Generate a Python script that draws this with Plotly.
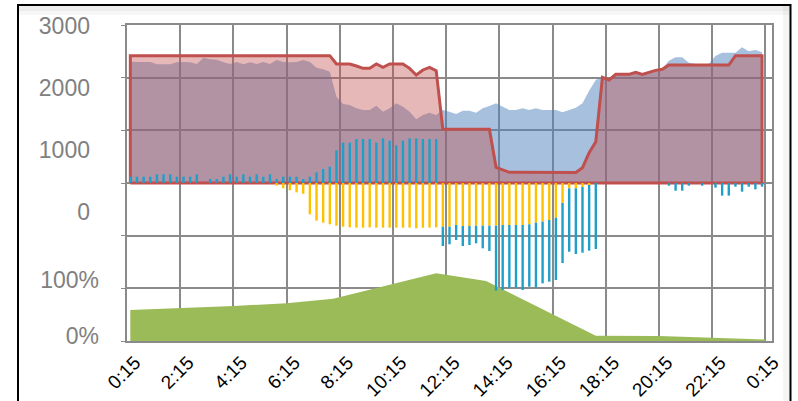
import plotly.graph_objects as go

# ---------------- data ----------------
# quarter-hour intervals, labelled 0:15 ... 24:00 ; x = interval centre in hours
N_INTERVALS = 96
FIRST_H = 0.25
STEP_H = 0.25
times = [FIRST_H + STEP_H * (i + 0.5) for i in range(N_INTERVALS)]

tick_hours = [0.25, 2.25, 4.25, 6.25, 8.25, 10.25, 12.25, 14.25, 16.25, 18.25, 20.25, 22.25, 24.25]
tick_labels = ["0:15", "2:15", "4:15", "6:15", "8:15", "10:15", "12:15",
               "14:15", "16:15", "18:15", "20:15", "22:15", "0:15"]

count_ticks = [0, 1000, 2000, 3000]
count_labels = ["0", "1000", "2000", "3000"]
share_ticks = [0, 1]
share_labels = ["0%", "100%"]

blue_area = [2304, 2297, 2297, 2297, 2253, 2253, 2253, 2291, 2297, 2291,
             2259, 2380, 2348, 2342, 2291, 2259, 2297, 2253, 2291, 2259,
             2297, 2259, 2335, 2297, 2291, 2297, 2335, 2297, 2190, 2158,
             2114, 1639, 1500, 1481, 1418, 1386, 1386, 1468, 1354, 1418,
             1513, 1449, 1354, 1209, 1291, 1335, 1291, 1386, 1354, 1310,
             1373, 1373, 1335, 1418, 1462, 1513, 1449, 1386, 1386, 1418,
             1386, 1418, 1386, 1386, 1386, 1342, 1386, 1430, 1513, 1750,
             1956, 2019, 1975, 2082, 2082, 2082, 2120, 2082, 2120, 2158,
             2177, 2323, 2386, 2386, 2285, 2259, 2259, 2259, 2411, 2475,
             2475, 2475, 2576, 2500, 2525, 2481]

red_area = [2418] * 31 + [
             2259, 2259, 2259, 2222, 2177, 2177, 2259, 2196, 2259, 2259,
             2259, 2177, 2051, 2146, 2196, 2133,
             1019, 1019, 1019, 1019, 1019, 1019, 1019, 1019,
             297, 247, 203, 203, 203, 203, 203, 203, 203, 200, 200, 200, 200,
             291, 576, 785, 2006, 1956, 2063, 2063, 2063, 2101, 2063, 2101,
             2139, 2158, 2240, 2240, 2240, 2240, 2240, 2240, 2240, 2240,
             2240, 2240, 2418, 2418, 2418, 2418, 2418]

bar_blue = [120, 120, 120, 120, 165, 165, 165, 120, 120, 120,
            165, 0, 76, 76, 120, 165, 120, 165, 120, 165,
            120, 165, 76, 120, 120, 120, 76, 120, 203, 266,
            310, 620, 766, 766, 835, 835, 835, 766, 848, 804,
            715, 804, 848, 848, 835, 835, 835, -367, -335, -285,
            -380, -361, -335, -430, -481, -1234, -1234, -1190, -1190, -1234,
            -1184, -1234, -1171, -1171, -1184, -1139, -1203, -1247, -1247, -1247,
            -1253, 0, 0, 0, 0, 0, 0, 0, 0, 0,
            0, -51, -146, -146, -51, 0, -51, 0, -89, -240,
            -240, -70, -165, -70, -120, -70]

bar_yellow = [0] * 22 + [
              -51, -101, -139, -177, -203, -595, -715, -753, -785, -810,
              -829, -842, -848, -848, -842, -848, -848, -848, -848, -848,
              -848, -861, -848, -848, -842, -829, -829, -797, -816, -816,
              -810, -810, -810, -810, -797, -797, -797, -797, -785, -753,
              -734, -703, -658, -380, -101, -101, -76, -38] + [0] * 26

green_hours = [0.375, 4.25, 6.25, 8.0, 11.875, 13.75, 17.875, 20.25, 22.25, 24.25]
green_share = [0.59, 0.665, 0.716, 0.80, 1.285, 1.14, 0.10, 0.095, 0.063, 0.03]

# ---------------- geometry ----------------
W, H = 798, 401
ML, MR, MT, MB = 127, 26, 25, 60
PW, PH = W - ML - MR, H - MT - MB

def pxx(px):
    return (px - ML) / PW

def pxy(py):
    return (H - MB - py) / PH

GRID = "#8a8a8a"
RED = "#C0504D"

fig = go.Figure()

# green share area (bottom panel)
fig.add_trace(go.Scatter(x=green_hours, y=green_share, mode="none", fill="tozeroy",
                         fillcolor="#9BBB59", yaxis="y", hoverinfo="skip"))
# blue area
fig.add_trace(go.Scatter(x=times, y=blue_area, mode="none", fill="tozeroy",
                         fillcolor="rgba(79,129,189,0.5)", yaxis="y2", hoverinfo="skip"))
# red area fill
fig.add_trace(go.Scatter(x=times, y=red_area, mode="none", fill="tozeroy",
                         fillcolor="rgba(192,80,77,0.4)", yaxis="y2", hoverinfo="skip"))
# red area outline (closed polygon round the area)
outline_x = [times[0]] + times + [times[-1], times[0]]
outline_y = [0] + red_area + [0, 0]
fig.add_trace(go.Scatter(x=outline_x, y=outline_y, mode="lines",
                         line=dict(color=RED, width=3), yaxis="y2", hoverinfo="skip"))
# bars
fig.add_trace(go.Bar(x=times, y=bar_yellow, width=0.09, marker=dict(color="#FFC000", line=dict(width=0)),
                     yaxis="y3", hoverinfo="skip"))
fig.add_trace(go.Bar(x=times, y=bar_blue, width=0.09, marker=dict(color="#1F9FCA", line=dict(width=0)),
                     yaxis="y3", hoverinfo="skip"))
# empty traces so that the two label axes are drawn
fig.add_trace(go.Scatter(x=[], y=[], yaxis="y4", mode="lines", hoverinfo="skip"))
fig.add_trace(go.Scatter(x=[], y=[], yaxis="y5", mode="lines", hoverinfo="skip"))

label_font = dict(family="Liberation Sans, Arial, sans-serif", size=23, color="#808080")

# label axis ranges: placed so labels sit where the reference prints them
cnt_px_per_unit = (212 - 26.2) / 3000
cnt_range = [0 - (H - MB - 212) / cnt_px_per_unit, 3000 + (26.2 - MT) / cnt_px_per_unit]
pct_px_per_unit = 336 - 280
pct_range = [0 - (H - MB - 336) / pct_px_per_unit, 1 + (280 - MT) / pct_px_per_unit]

fig.update_layout(
    template="none",
    width=W, height=H,
    margin=dict(l=ML, r=MR, t=MT, b=MB, pad=0),
    paper_bgcolor="white", plot_bgcolor="white",
    showlegend=False,
    barmode="relative",
    xaxis=dict(range=[0.25, 24.5], tickvals=tick_hours, ticktext=tick_labels,
               tickangle=-45, tickfont=dict(family="Liberation Sans, Arial, sans-serif", size=19, color="black"),
               ticklabelstandoff=1, ticklabelshift=8,
               showgrid=True, gridcolor=GRID, gridwidth=2, zeroline=False,
               showline=True, linecolor=GRID, linewidth=2, mirror=True,
               ticks="", automargin=False),
    yaxis=dict(range=[0, 6], dtick=1, showgrid=True, gridcolor=GRID, gridwidth=2,
               zeroline=False, showticklabels=False, showline=True, linecolor=GRID,
               linewidth=2, mirror=True, ticks="outside", ticklen=4, tickcolor=GRID,
               automargin=False),
    yaxis2=dict(overlaying="y", anchor="x", range=[-3000, 3000], visible=False),
    yaxis3=dict(overlaying="y", anchor="x", range=[-3000, 3000], visible=False),
    yaxis4=dict(overlaying="y", anchor="x", side="left", range=cnt_range,
                tickvals=count_ticks, ticktext=count_labels, tickfont=label_font,
                showgrid=False, zeroline=False, showline=False, ticks="",
                ticklabelstandoff=36, automargin=False),
    yaxis5=dict(overlaying="y", anchor="x", side="left", range=pct_range,
                tickvals=share_ticks, ticktext=share_labels, tickfont=label_font,
                showgrid=False, zeroline=False, showline=False, ticks="",
                ticklabelstandoff=27, automargin=False),
    shapes=[
        # soft inner shadow under the top edge of the frame
        dict(type="rect", xref="paper", yref="paper", x0=pxx(18), x1=pxx(790), y0=pxy(15), y1=pxy(6),
             fillcolor="rgba(0,0,0,0.03)", line=dict(width=0), layer="below"),
        dict(type="rect", xref="paper", yref="paper", x0=pxx(18), x1=pxx(790), y0=pxy(11), y1=pxy(6),
             fillcolor="rgba(0,0,0,0.04)", line=dict(width=0), layer="below"),
        dict(type="rect", xref="paper", yref="paper", x0=pxx(783), x1=pxx(790), y0=pxy(402), y1=pxy(6),
             fillcolor="rgba(0,0,0,0.04)", line=dict(width=0), layer="below"),
        # outer frame
        dict(type="rect", xref="paper", yref="paper", x0=pxx(18), x1=pxx(790.5), y0=pxy(420), y1=pxy(5),
             line=dict(color="black", width=2), fillcolor="rgba(0,0,0,0)"),
    ],
)

# the page body has a default 8px margin; remove it so the figure fills the window
fig.write_html("out.html", config={"displayModeBar": False},
               post_script="document.body.style.margin='0px';")
